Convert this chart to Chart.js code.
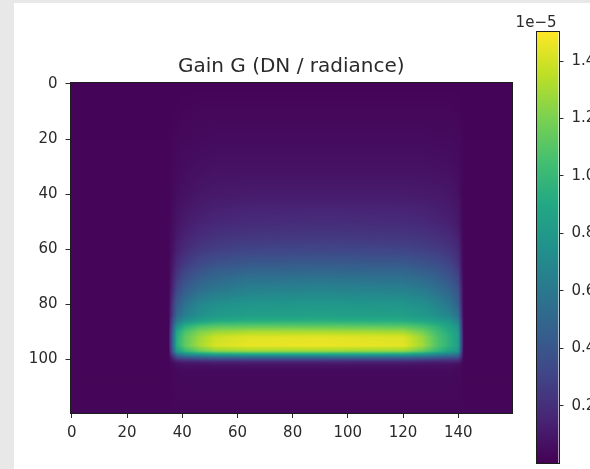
<!DOCTYPE html>
<html><head><meta charset="utf-8">
<script src="https://cdn.jsdelivr.net/npm/chart.js@4"></script>
<style>
html,body{margin:0;padding:0;width:590px;height:469px;overflow:hidden;background:#e8e8e8}
#panel{position:absolute;left:14px;top:3px;width:576px;height:466px;background:#fff}
canvas{position:absolute;left:0;top:0;filter:blur(0.45px)}
</style></head><body>
<div id="panel"></div>
<canvas id="main" width="590" height="469"></canvas>
<canvas id="bar" width="590" height="469"></canvas>
<script>
const chartTitle = 'Gain G (DN / radiance)';
const barExponent = '1e\u22125';
const xTicks = [0,20,40,60,80,100,120,140];
const yTicks = [0,20,40,60,80,100];
const barTicks = [0.2,0.4,0.6,0.8,1.0,1.2,1.4];
const gainMin = 0.001, gainMax = 1.501;
const viridis = ['#440154','#482475','#414487','#355f8d','#2a788e','#21918c','#22a884','#44bf70','#7ad151','#bddf26','#fde725'];
const colNodes = [0,35,37,38,41,46,52,64,90,120,127,132,137,140,141,142,159];
const rowNodes = [0,10,20,30,40,50,55,60,65,70,75,80,84,86,88,90,92,95,97,98,99,100,101,102,104,119];
const gainRows = [
[.015,.015,.015,.015,.015,.015,.015,.015,.015,.015,.015,.015,.015,.015,.015,.015,.015],
[.015,.015,.02,.02,.025,.03,.03,.03,.03,.03,.03,.03,.03,.025,.02,.015,.015],
[.02,.02,.03,.03,.035,.04,.045,.045,.045,.045,.045,.04,.04,.035,.03,.02,.02],
[.02,.02,.035,.04,.05,.06,.07,.07,.07,.07,.07,.065,.06,.05,.035,.02,.02],
[.02,.02,.04,.055,.07,.09,.10,.11,.11,.11,.105,.10,.09,.07,.04,.02,.02],
[.02,.02,.06,.08,.11,.14,.16,.18,.19,.18,.17,.15,.13,.10,.06,.02,.02],
[.02,.02,.07,.10,.14,.18,.21,.23,.24,.23,.22,.20,.17,.13,.07,.02,.02],
[.02,.02,.09,.13,.18,.24,.27,.30,.31,.30,.28,.26,.22,.17,.09,.02,.02],
[.02,.02,.12,.17,.25,.32,.37,.41,.42,.41,.38,.35,.29,.22,.11,.02,.02],
[.02,.02,.16,.24,.34,.43,.49,.54,.55,.54,.50,.46,.38,.30,.14,.02,.02],
[.02,.02,.22,.32,.44,.54,.60,.66,.68,.66,.62,.56,.48,.38,.18,.02,.02],
[.02,.02,.30,.42,.56,.68,.74,.78,.79,.78,.74,.68,.58,.46,.22,.02,.02],
[.02,.02,.34,.50,.64,.74,.80,.84,.85,.84,.80,.75,.67,.55,.27,.02,.02],
[.02,.02,.42,.58,.74,.84,.90,.93,.94,.92,.88,.84,.77,.66,.32,.02,.02],
[.02,.02,.52,.74,.94,1.06,1.11,1.13,1.13,1.11,1.05,.97,.86,.76,.37,.02,.02],
[.02,.02,.58,.88,1.07,1.20,1.27,1.31,1.31,1.29,1.18,1.04,.91,.81,.40,.02,.02],
[.02,.02,.62,.93,1.12,1.27,1.38,1.43,1.44,1.42,1.27,1.09,.94,.84,.42,.02,.02],
[.02,.02,.62,.93,1.13,1.29,1.41,1.45,1.46,1.44,1.29,1.10,.95,.85,.42,.02,.02],
[.02,.02,.55,.82,1.0,1.14,1.24,1.28,1.28,1.26,1.14,1.0,.86,.78,.38,.02,.02],
[.02,.02,.40,.62,.76,.86,.92,.95,.95,.93,.85,.76,.68,.62,.30,.02,.02],
[.02,.02,.26,.40,.50,.55,.60,.62,.62,.60,.56,.50,.45,.42,.22,.02,.02],
[.02,.02,.14,.22,.27,.30,.32,.33,.33,.32,.30,.28,.26,.24,.14,.02,.02],
[.02,.02,.07,.11,.13,.14,.15,.15,.15,.15,.14,.13,.13,.12,.08,.02,.02],
[.02,.02,.04,.06,.07,.07,.08,.08,.08,.08,.07,.07,.07,.06,.04,.02,.02],
[.02,.02,.03,.035,.04,.04,.04,.04,.04,.04,.04,.04,.04,.035,.03,.02,.02],
[.025,.025,.025,.025,.025,.025,.025,.025,.025,.025,.025,.025,.025,.025,.025,.025,.025]
];

const INK = '#2a2a2a';
const FONT = '"DejaVu Sans"';
const viridisRgb = viridis.map(h => [1,3,5].map(i => parseInt(h.substr(i,2),16)));
function colourOf(v){
  const t = Math.min(1, Math.max(0, (v-gainMin)/(gainMax-gainMin)))*(viridisRgb.length-1);
  const i = Math.min(viridisRgb.length-2, Math.floor(t)), f = t-i;
  return viridisRgb[i].map((c,k) => c+(viridisRgb[i+1][k]-c)*f);
}
function bracket(nodes, q){
  let i = 0;
  while(i < nodes.length-2 && nodes[i+1] < q) i++;
  const f = (q-nodes[i])/(nodes[i+1]-nodes[i]);
  return [i, Math.min(1, Math.max(0, f))];
}
// Paints the table through the chart's own scales, smoothed like imshow's display.
const heatmap = {
  id:'heatmap',
  beforeDatasetsDraw(chart){
    const {ctx, chartArea:a, scales:{x,y}} = chart;
    const L = Math.round(a.left), T = Math.round(a.top);
    const W = Math.round(a.right)-L, H = Math.round(a.bottom)-T;
    const off = document.createElement('canvas'); off.width = W; off.height = H;
    const oc = off.getContext('2d'), img = oc.createImageData(W,H);
    for(let py=0; py<H; py++){
      const [r,fr] = bracket(rowNodes, y.getValueForPixel(T+py+.5));
      for(let px=0; px<W; px++){
        const [c,fc] = bracket(colNodes, x.getValueForPixel(L+px+.5));
        const v = (gainRows[r][c]*(1-fc)+gainRows[r][c+1]*fc)*(1-fr)+(gainRows[r+1][c]*(1-fc)+gainRows[r+1][c+1]*fc)*fr;
        const rgb = colourOf(v), o = (py*W+px)*4;
        img.data[o]=rgb[0]; img.data[o+1]=rgb[1]; img.data[o+2]=rgb[2]; img.data[o+3]=255;
      }
    }
    oc.putImageData(img,0,0);
    ctx.drawImage(off,L,T);
  }
};
const frame = {
  id:'frame',
  afterDraw(chart){
    const {ctx, chartArea:a} = chart;
    const L = Math.round(a.left)-.5, T = Math.round(a.top)-.5;
    const R = Math.round(a.right)+.5, B = Math.round(a.bottom)+.5;
    ctx.save(); ctx.strokeStyle = '#1c1c1c'; ctx.lineWidth = 1;
    ctx.strokeRect(L, T, R-L, B-T);
    ctx.restore();
  }
};
const exponentLabel = {
  id:'exponentLabel',
  afterDraw(chart){
    const {ctx, chartArea:a} = chart;
    ctx.save(); ctx.fillStyle = INK; ctx.font = '15px '+FONT;
    ctx.textAlign = 'right'; ctx.textBaseline = 'alphabetic';
    ctx.fillText(barExponent, a.right-2, a.top-5);
    ctx.restore();
  }
};
const nodes = [];
rowNodes.forEach((ry,r) => colNodes.forEach((cx,c) => nodes.push({x:cx,y:ry,v:gainRows[r][c]})));

const tickGrid = {drawOnChartArea:false, drawTicks:true, tickLength:5, color:INK, lineWidth:1};
new Chart(document.getElementById('main'),{
  type:'scatter',
  data:{datasets:[{label:'Gain',data:nodes,pointRadius:0,pointHoverRadius:0}]},
  plugins:[heatmap,frame],
  options:{
    responsive:false, animation:false,
    layout:{padding:{left:0,right:78,top:0,bottom:0}},
    plugins:{legend:{display:false},tooltip:{enabled:false},
      title:{display:true,text:chartTitle,color:INK,fullSize:false,font:{family:FONT,size:20,weight:'normal'},padding:{top:55,bottom:3.6}}},
    scales:{
      x:{type:'linear',min:-0.5,max:159.5,
        afterBuildTicks(s){s.ticks = xTicks.map(v=>({value:v}));},
        afterFit(s){s.height = 56;},
        grid:tickGrid,border:{display:false},
        ticks:{color:INK,font:{family:FONT,size:15},padding:6,maxRotation:0,autoSkip:false}},
      y:{type:'linear',reverse:true,min:-0.5,max:119.5,
        afterBuildTicks(s){s.ticks = yTicks.map(v=>({value:v}));},
        afterFit(s){s.width = 70.5;},
        grid:tickGrid,border:{display:false},
        ticks:{color:INK,font:{family:FONT,size:15},padding:8,autoSkip:false}}
    }
  }
});

const barCanvas = document.getElementById('bar');
new Chart(barCanvas,{
  type:'bar',
  data:{labels:['gain'],datasets:[{data:[[gainMin,gainMax]],barPercentage:1,categoryPercentage:1,
    backgroundColor(c){
      const a = c.chart.chartArea; if(!a) return viridis[0];
      const g = c.chart.ctx.createLinearGradient(0,a.bottom,0,a.top);
      viridis.forEach((h,i)=>g.addColorStop(i/(viridis.length-1),h));
      return g;
    }}]},
  plugins:[frame,exponentLabel],
  options:{
    responsive:false, animation:false,
    layout:{padding:{left:536.5,right:0,top:32,bottom:6}},
    plugins:{legend:{display:false},tooltip:{enabled:false},title:{display:false}},
    scales:{
      x:{display:false},
      y:{type:'linear',position:'right',min:gainMin,max:gainMax,
        afterBuildTicks(s){s.ticks = barTicks.map(v=>({value:v}));},
        afterFit(s){s.width = 31.5; s.paddingTop = 0; s.paddingBottom = 0;},
        grid:tickGrid,border:{display:false},
        ticks:{color:INK,font:{family:FONT,size:15},padding:8,autoSkip:false,callback:v=>v.toFixed(1)}}
    }
  }
});
</script>
</body></html>
